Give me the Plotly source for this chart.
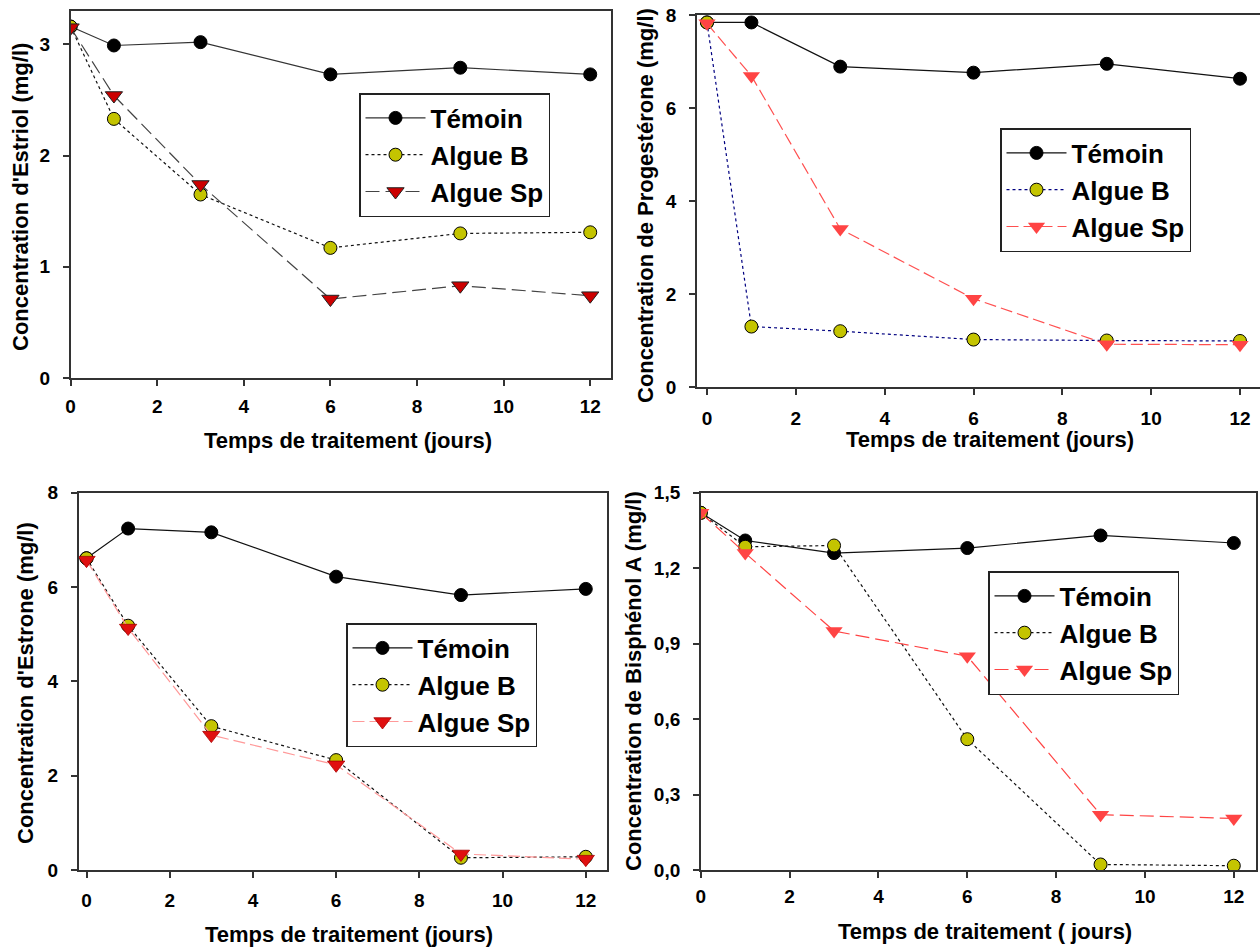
import plotly.graph_objects as go

OFF = 0
W, H = 1260 - OFF, 947 - OFF

days = [0, 1, 3, 6, 9, 12]
series_names = ["Témoin", "Algue B", "Algue Sp"]

estriol_temoin = [3.16, 2.99, 3.02, 2.73, 2.79, 2.73]
estriol_algueB = [3.16, 2.33, 1.65, 1.17, 1.30, 1.31]
estriol_algueSp = [3.15, 2.54, 1.74, 0.71, 0.83, 0.74]

progest_temoin = [7.84, 7.84, 6.89, 6.76, 6.95, 6.63]
progest_algueB = [7.84, 1.30, 1.20, 1.02, 1.00, 0.99]
progest_algueSp = [7.82, 6.69, 3.40, 1.90, 0.92, 0.91]

estrone_temoin = [6.61, 7.24, 7.16, 6.22, 5.83, 5.96]
estrone_algueB = [6.61, 5.18, 3.05, 2.33, 0.26, 0.28]
estrone_algueSp = [6.57, 5.13, 2.86, 2.23, 0.34, 0.23]

bpa_temoin = [1.42, 1.31, 1.26, 1.28, 1.33, 1.30]
bpa_algueB = [1.42, 1.285, 1.29, 0.52, 0.022, 0.017]
bpa_algueSp = [1.42, 1.26, 0.95, 0.85, 0.22, 0.205]

x_ticks = [0, 2, 4, 6, 8, 10, 12]
estriol_yticks = [0, 1, 2, 3]
progest_yticks = [0, 2, 4, 6, 8]
estrone_yticks = [0, 2, 4, 6, 8]
bpa_yticks = [0, 0.3, 0.6, 0.9, 1.2, 1.5]
bpa_yticktext = ["0,0", "0,3", "0,6", "0,9", "1,2", "1,5"]

x_title = "Temps de traitement (jours)"
x_title_bpa = "Temps de traitement ( jours)"
y_titles = ["Concentration d'Estriol (mg/l)",
            "Concentration de Progestérone (mg/l)",
            "Concentration d'Estrone (mg/l)",
            "Concentration de Bisphénol A (mg/l)"]

FONT = "Arial, Liberation Sans, Helvetica, sans-serif"
YEL = "#c4c400"


def px(x):
    return min(1.0, (x - OFF) / W)


def py(y):
    return 1 - (y - OFF) / H


fig = go.Figure()

panels = [
    dict(data=(estriol_temoin, estriol_algueB, estriol_algueSp),
         tc="#333333", bc="#111111", sc="#444444", sdash="14px,6px",
         smc="#cc0000", smb="#222222", smbw=1),
    dict(data=(progest_temoin, progest_algueB, progest_algueSp),
         tc="#111111", bc="#000080", sc="#ff5050", sdash="12px,5px",
         smc="#ff4444", smb="#ff4444", smbw=0),
    dict(data=(estrone_temoin, estrone_algueB, estrone_algueSp),
         tc="#111111", bc="#111111", sc="#ff9999", sdash="12px,5px",
         smc="#e01010", smb="#aa0000", smbw=0.8),
    dict(data=(bpa_temoin, bpa_algueB, bpa_algueSp),
         tc="#111111", bc="#111111", sc="#ff4444", sdash="14px,6px",
         smc="#ff4444", smb="#ff4444", smbw=0),
]

for i, p in enumerate(panels):
    k = "" if i == 0 else str(i + 1)
    leg = "legend" if i == 0 else "legend" + str(i + 1)
    t, b, s = p["data"]
    fig.add_trace(go.Scatter(
        x=days, y=t, name=series_names[0], mode="lines+markers",
        xaxis="x" + k, yaxis="y" + k, legend=leg,
        line=dict(color=p["tc"], width=1.2),
        marker=dict(symbol="circle", size=13, color="#000000",
                    line=dict(color="#000000", width=1))))
    fig.add_trace(go.Scatter(
        x=days, y=b, name=series_names[1], mode="lines+markers",
        xaxis="x" + k, yaxis="y" + k, legend=leg,
        line=dict(color=p["bc"], width=1.2, dash="dot"),
        marker=dict(symbol="circle", size=13, color=YEL,
                    line=dict(color="#000000", width=1))))
    fig.add_trace(go.Scatter(
        x=days, y=s, name=series_names[2], mode="lines+markers",
        xaxis="x" + k, yaxis="y" + k, legend=leg,
        line=dict(color=p["sc"], width=1.2, dash=p["sdash"]),
        marker=dict(symbol="triangle-down", size=15, color=p["smc"],
                    line=dict(color=p["smb"], width=p["smbw"]))))

tickfont = dict(family=FONT, size=19, color="#000000", weight="bold")


def xax(domain, rng, anchor, mirror=True, standoff=4):
    return dict(domain=domain, range=rng, anchor=anchor, tickvals=x_ticks,
                ticks="outside", ticklen=6, tickwidth=1.5, tickcolor="#333",
                showline=True, linecolor="#333", linewidth=1.5, mirror=mirror,
                showgrid=False, zeroline=False, tickfont=tickfont,
                ticklabelstandoff=standoff, automargin=False,
                ticklabeloverflow="allow")


def yax(domain, rng, anchor, vals, text=None, mirror=True):
    d = dict(domain=domain, range=rng, anchor=anchor, tickvals=vals,
             ticks="outside", ticklen=6, tickwidth=1.5, tickcolor="#333",
             showline=True, linecolor="#333", linewidth=1.5, mirror=mirror,
             showgrid=False, zeroline=False, tickfont=tickfont,
             ticklabelstandoff=9, automargin=False, ticklabeloverflow="allow")
    if text is not None:
        d["ticktext"] = text
    return d


legfont = dict(family=FONT, size=26, color="#000000", weight="bold")


def legend(x, y):
    return dict(x=px(x), y=py(y), xanchor="left", yanchor="top",
                bordercolor="#222222", borderwidth=1.5, bgcolor="#ffffff",
                font=legfont, itemwidth=60, tracegroupgap=0,
                traceorder="normal", itemsizing="trace")


annotations = []


def add_title(text, x, y, angle=0):
    annotations.append(dict(text=text, x=px(x), y=py(y), xref="paper", yref="paper",
                            showarrow=False, textangle=angle,
                            xanchor="center", yanchor="middle",
                            font=dict(family=FONT, size=22, color="#000000", weight="bold")))


add_title(x_title, 348, 441)
add_title(x_title, 990, 439)
add_title(x_title, 349, 934)
add_title(x_title_bpa, 985, 931)
add_title(y_titles[0], 20, 197, -90)
add_title(y_titles[1], 646, 206, -90)
add_title(y_titles[2], 25, 683, -90)
add_title(y_titles[3], 633, 681, -90)

fig.update_layout(
    width=W, height=H, margin=dict(l=0, r=0, t=0, b=0, autoexpand=False),
    paper_bgcolor="#ffffff", plot_bgcolor="#ffffff",
    showlegend=True,
    xaxis=xax([px(70.6), px(611)], [0, 12.48], "y", standoff=4),
    yaxis=yax([py(378), py(11)], [0, 3.3], "x", estriol_yticks),
    xaxis2=xax([px(697), px(1260)], [-0.225, 12.45], "y2", standoff=7),
    yaxis2=yax([py(387), py(15)], [0, 8], "x2", progest_yticks, mirror=False),
    xaxis3=xax([px(78.6), px(607)], [-0.19, 12.51], "y3", standoff=6),
    yaxis3=yax([py(870), py(492.7)], [0, 8], "x3", estrone_yticks),
    xaxis4=xax([px(700.8), px(1256)], [0, 12.5], "y4", standoff=2),
    yaxis4=yax([py(870), py(492.7)], [0, 1.5], "x4", bpa_yticks, bpa_yticktext),
    legend=legend(359, 93),
    legend2=legend(1000, 128),
    legend3=legend(346, 623),
    legend4=legend(988, 571),
    annotations=annotations,
)

# remove the browser's default 8px body margin so the figure fills the window exactly
fig.write_html("out.html",
               config={"displayModeBar": False},
               post_script="document.body.style.margin='0';document.body.style.overflow='hidden';")
